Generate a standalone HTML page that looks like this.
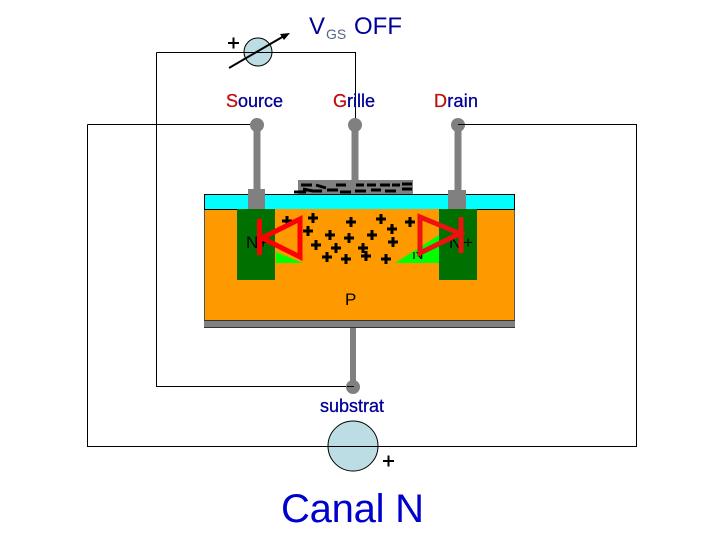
<!DOCTYPE html>
<html><head><meta charset="utf-8"><style>html,body{margin:0;padding:0;background:#fff}svg{display:block}text{font-family:"Liberation Sans",sans-serif}</style></head><body>
<svg width="720" height="540" viewBox="0 0 720 540" xmlns="http://www.w3.org/2000/svg">
<defs><clipPath id="c"><rect x="405" y="252" width="30" height="10"/></clipPath></defs>
<rect x="204.500" y="194.500" width="310" height="15" fill="#00ffff" stroke="#000" stroke-width="1"/>
<rect x="204" y="209" width="310" height="112" fill="#ff9900"/>
<path d="M204.500 209V321M514.500 209V321" stroke="#555" stroke-width="1"/>
<path d="M204 209.500H237M477 209.500H515" stroke="#000" stroke-width="1"/>
<rect x="204" y="320" width="311" height="8" fill="#808080"/>
<path d="M204 320.500H515M204 327.500H515" stroke="#333" stroke-width="1"/>
<rect x="237" y="209" width="38" height="71" fill="#007000"/>
<rect x="439" y="209" width="38" height="71" fill="#007000"/>
<polygon points="276,252 303,263 276,263" fill="#00ff00"/>
<polygon points="395,263 439,235 439,263" fill="#00ff00"/>
<rect x="248" y="189" width="17" height="20" fill="#808080"/>
<rect x="448" y="190" width="18" height="19" fill="#808080"/>
<rect x="298" y="180" width="115" height="14" fill="#808080"/>
<g stroke="#000" stroke-width="3" fill="none">
<path d="M301 185H312M316 185L326 188M336 185H346M356 185H364M367 185H376M380 185H390M392 185H400M402 184H412M303 189L313 191M294 192H306M311 191H322M327 190H338M340 192H351M355 191H366M371 190H381M385 191H396M402 189H412"/>
</g>
<path d="M156.500 52.500H355.500V125M156.500 52.500V386.500H352M87.500 124.500H257M87.500 124.500V446.500H636.500V124.500H458" fill="none" stroke="#000" stroke-width="1"/>
<circle cx="258" cy="52" r="14" fill="#bbdde3" stroke="#000" stroke-width="1"/>
<circle cx="353" cy="446" r="25" fill="#bbdde3" stroke="#000" stroke-width="1"/>
<path d="M328 446.500H378M244 52.500H272" stroke="#000" stroke-width="1"/>
<path d="M229 68L284 36" stroke="#000" stroke-width="2"/>
<polygon points="290,33 280,34 284,40" fill="#000"/>
<g fill="#808080">
<rect x="253.500" y="125" width="7" height="65"/><circle cx="257" cy="125" r="7"/>
<rect x="351.500" y="125" width="7" height="56"/><circle cx="355" cy="125" r="7"/>
<rect x="454.500" y="125" width="7" height="66"/><circle cx="458" cy="125" r="7"/>
<rect x="350" y="328" width="6" height="58"/><circle cx="353" cy="387" r="7"/>
</g>
<path d="M458 124.500H465M347 386.500H354" stroke="#000" stroke-width="1"/>
<path d="M287 216v10M282 221h10M313 213v10M308 218h10M351 217v10M346 222h10M308 226v10M303 231h10M330 230v10M325 235h10M349 233v10M344 238h10M316 240v10M311 245h10M336 243v10M331 248h10M327 252v10M322 257h10M346 254v10M341 259h10M381 214v10M376 219h10M410 217v10M405 222h10M392 224v10M387 229h10M372 230v10M367 235h10M393 237v10M388 242h10M363 243v10M358 248h10M366 251v10M361 256h10M386 254v10M381 259h10" stroke="#000" stroke-width="3" fill="none"/>
<path d="M228 43h11M233.500 37.500v11M383 461h11M388.500 455.500v11" stroke="#000" stroke-width="2" fill="none"/>
<text x="246" y="248" font-size="17" fill="#000">N+</text>
<text x="449" y="248" font-size="17" fill="#000" textLength="24">N+</text>
<text x="412" y="259" font-size="16" fill="#000" clip-path="url(#c)">N</text>
<text x="345" y="305" font-size="17" fill="#000">P</text>
<path d="M262 238L300 219V257ZM259.500 219V255" fill="none" stroke="#ff0000" stroke-width="5"/>
<path d="M460 233.500L420 217V253ZM461 217V253" fill="none" stroke="#ee1111" stroke-width="5"/>
<text x="309" y="34" font-size="24" fill="#000099">V</text>
<text x="326" y="39" font-size="14" fill="#556688">GS</text>
<text x="354" y="34" font-size="24" fill="#000099">OFF</text>
<g font-size="18" fill="#000099" stroke="#000099" stroke-width="0.300">
<text x="226" y="107" textLength="57"><tspan fill="#c01010" stroke="#c01010">S</tspan>ource</text>
<text x="333" y="107" textLength="42"><tspan fill="#c01010" stroke="#c01010">G</tspan>rille</text>
<text x="434" y="107" textLength="44"><tspan fill="#c01010" stroke="#c01010">D</tspan>rain</text>
<text x="320" y="412" textLength="64">substrat</text>
</g>
<text x="281" y="522" font-size="40" fill="#0000cc" textLength="143">Canal N</text>
</svg>
</body></html>
